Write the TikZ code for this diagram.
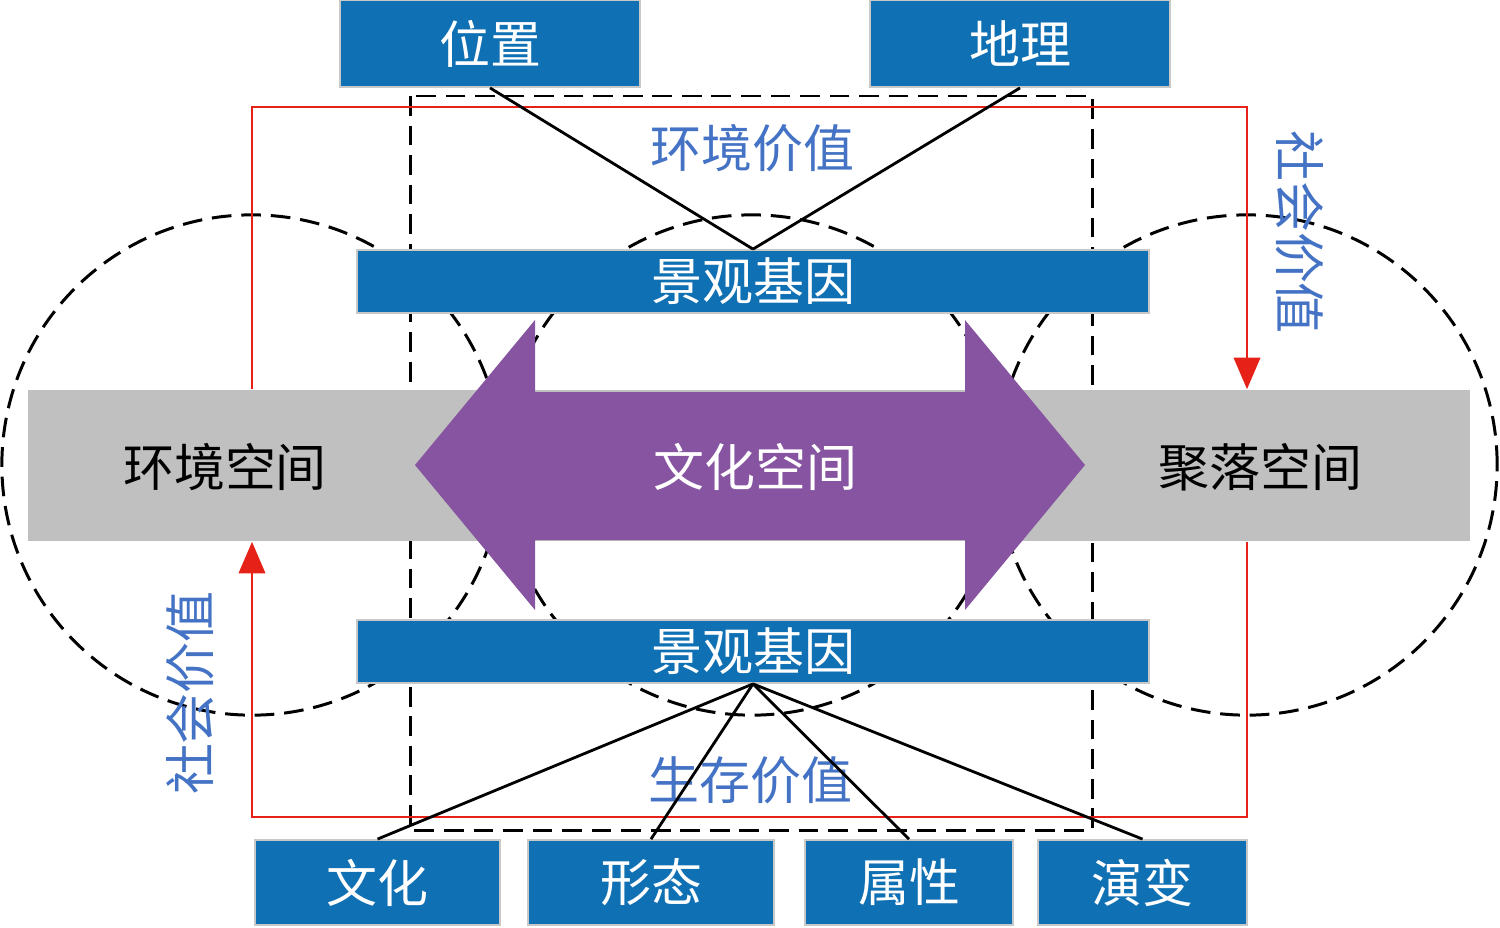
\documentclass[tikz,border=0pt]{standalone}
\usepackage{fontspec}
\newfontfamily\cjk{Noto Sans CJK SC}
\usetikzlibrary{positioning, arrows.meta}

\definecolor{geneblue}{HTML}{1070B4}
\definecolor{boxrim}{HTML}{C8C8C8}
\definecolor{valueblue}{HTML}{4472C4}
\definecolor{spacegray}{HTML}{C0C0C0}
\definecolor{culturepurple}{HTML}{8654A0}
\definecolor{linkred}{HTML}{E62117}

\tikzset{
  cjkfont/.style={font=\cjk\fontsize{14.5}{17}\selectfont},
  bluebox/.style={rectangle, fill=geneblue, draw=boxrim, line width=0.5pt,
    text=white, inner sep=0pt, cjkfont},
  genebar/.style={bluebox, minimum width=7.92cm, minimum height=0.63cm},
  valuetext/.style={text=valueblue, inner sep=0pt, cjkfont},
  spacetext/.style={inner sep=0pt, cjkfont},
  dashline/.style={line width=0.85pt, dash pattern=on 5.6pt off 2.8pt},
  redline/.style={linkred, line width=0.75pt},
  redarrow/.style={redline, -{Triangle[length=9pt,width=7.5pt]}},
  link/.style={black, line width=0.8pt}
}

\begin{document}
\begin{tikzpicture}[x=0.01cm, y=-0.01cm]
    \useasboundingbox (0,0) rectangle (1500,927);

    % Dashed circles and frame
    \draw[dashline] (252,465) circle[radius=2.5cm];
    \draw[dashline] (752,465) circle[radius=2.5cm];
    \draw[dashline] (1247,465) circle[radius=2.5cm];
    \draw[dashline] (410,96) rectangle (1092,830);

    % Gray band and purple arrow
    \node[rectangle, fill=spacegray, minimum width=14.42cm, minimum height=1.51cm, inner sep=0pt] (band) at (749,465.5) {};
    \fill[culturepurple] (415,465) -- (535,320) -- (535,392) -- (965,392) -- (965,320)
        -- (1085,465) -- (965,610) -- (965,540) -- (535,540) -- (535,610) -- cycle;

    % Define nodes
    \node[spacetext] (env) at (225,467) {环境空间};
    \node[spacetext, text=white] (culture) at (755,467) {文化空间};
    \node[spacetext] (settle) at (1260,467) {聚落空间};

    \node[genebar] (genetop) at (753,281.5) {景观基因};
    \node[genebar] (genebot) at (753,651.5) {景观基因};

    \node[bluebox, minimum width=3cm, minimum height=0.87cm] (loc) at (490,43.5) {位置};
    \node[bluebox, minimum width=3cm, minimum height=0.87cm] (geo) at (1020,43.5) {地理};

    \node[bluebox, minimum width=2.45cm, minimum height=0.85cm] (wh) at (377.5,882.5) {文化};
    \node[bluebox, minimum width=2.46cm, minimum height=0.85cm] (xt) at (651,882.5) {形态};
    \node[bluebox, minimum width=2.08cm, minimum height=0.85cm] (sx) at (909,882.5) {属性};
    \node[bluebox, minimum width=2.09cm, minimum height=0.85cm] (yb) at (1142.5,882.5) {演变};

    \node[valuetext] (envval) at (752,148) {环境价值};
    \node[valuetext] (liveval) at (750,780) {生存价值};
    \node[valuetext, rotate=-90] (socright) at (1300,232) {社会价值};
    \node[valuetext, rotate=90] (socleft) at (190,693) {社会价值};

    % Red loop
    \coordinate (lt) at (band.north -| 252,0);
    \coordinate (rt) at (band.north -| 1247,0);
    \coordinate (lb) at (band.south -| 252,0);
    \coordinate (rb) at (band.south -| 1247,0);
    \draw[redarrow] (lt) -- (252,107) -- (1247,107) -- (rt);
    \draw[redarrow] (rb) -- (1247,817) -- (252,817) -- (lb);

    % Draw edges
    \draw[link] (loc.south) -- (genetop.north);
    \draw[link] (geo.south) -- (genetop.north);
    \draw[link] (genebot.south) -- (wh.north);
    \draw[link] (genebot.south) -- (xt.north);
    \draw[link] (genebot.south) -- (sx.north);
    \draw[link] (genebot.south) -- (yb.north);

\end{tikzpicture}
\end{document}
